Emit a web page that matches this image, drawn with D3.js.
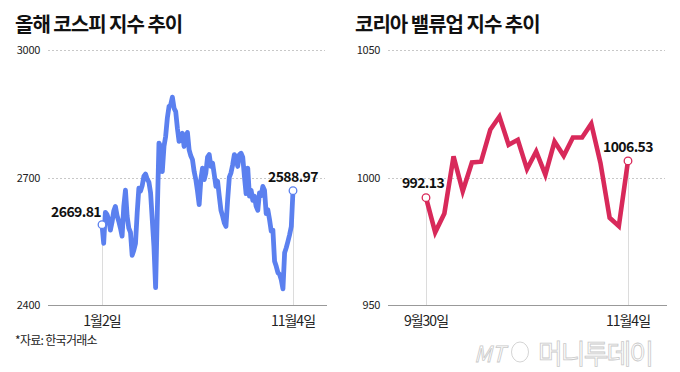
<!DOCTYPE html>
<html>
<head>
<meta charset="utf-8">
<script src="https://cdn.jsdelivr.net/npm/d3@7"></script>
<style>
  body { margin: 0; background: #fff; }
  text { font-family: "Noto Sans CJK KR", "Liberation Sans", sans-serif; }
</style>
</head>
<body>
<div id="chart"></div>
<script>
// values, left to right
var kospiValues = [
  2589, 2545, 2618, 2613, 2600, 2576, 2595, 2621, 2632, 2610, 2597, 2581, 2562, 2632, 2670,
  2609, 2581, 2571, 2517, 2529, 2545, 2617, 2675, 2668, 2681, 2703, 2708, 2696, 2689, 2664,
  2601, 2538, 2441, 2617, 2781, 2773, 2714, 2773, 2797, 2840, 2867, 2871, 2889, 2863, 2855,
  2816, 2785, 2789, 2804, 2773, 2798, 2806, 2765, 2751, 2742, 2714, 2695, 2668, 2636, 2695,
  2722, 2695, 2711, 2748, 2754, 2726, 2734, 2707, 2679, 2691, 2656, 2623, 2609, 2593, 2585,
  2648, 2701, 2711, 2730, 2754, 2748, 2726, 2754, 2757, 2748, 2703, 2662, 2722, 2656, 2670,
  2646, 2656, 2632, 2623, 2664, 2657, 2679, 2670, 2615, 2624, 2601, 2574, 2576, 2503, 2491,
  2476, 2472, 2459, 2438, 2523, 2535, 2550, 2566, 2585, 2669
];
var kospiTicks = [2400, 2700, 3000];
var kospiDates = ["1월2일", "11월4일"];
var kospiEndLabels = ["2669.81", "2588.97"];

var valueupValues = [
  992.1, 978.5, 985.9, 1008.3, 994.6, 1005.9, 1006.2, 1018.7, 1023.9, 1012.8, 1014.8, 1003.3,
  1010.2, 1001.1, 1014.1, 1008.5, 1015.7, 1015.7, 1021.1, 1005.7, 984.2, 980.9, 1006.5
];
var valueupTicks = [950, 1000, 1050];
var valueupDates = ["9월30일", "11월4일"];
var valueupEndLabels = ["992.13", "1006.53"];

var width = 680;
var height = 372;

var svg = d3.select("#chart").append("svg")
    .attr("width", width)
    .attr("height", height);

svg.append("rect")
    .attr("width", width)
    .attr("height", height)
    .attr("fill", "#fff");

function drawPanel(opt) {
    var g = svg.append("g").attr("transform", "translate(" + opt.left + ",0)");

    var yScale = d3.scaleLinear()
        .domain(d3.extent(opt.ticks))
        .range([305, 50]);

    var xScale = d3.scaleLinear()
        .domain([0, opt.values.length - 1])
        .range([opt.x0, opt.x1]);

    // title
    g.append("text")
        .attr("x", 15)
        .attr("y", 32)
        .attr("font-size", "20px")
        .attr("font-weight", "bold")
        .attr("letter-spacing", "-1px")
        .attr("fill", "#111")
        .text(opt.title);

    // grid lines
    g.selectAll(".grid")
        .data(opt.ticks.slice(1))
        .enter()
        .append("line")
            .attr("x1", 48)
            .attr("x2", 325)
            .attr("y1", function(d) { return Math.round(yScale(d)) + 0.5; })
            .attr("y2", function(d) { return Math.round(yScale(d)) + 0.5; })
            .attr("stroke", "#c8c8c8")
            .attr("stroke-dasharray", "2,2");

    // y tick labels
    g.selectAll(".ylab")
        .data(opt.ticks)
        .enter()
        .append("text")
            .attr("x", 40)
            .attr("y", function(d) { return yScale(d) + 4; })
            .attr("text-anchor", "end")
            .attr("font-family", "Liberation Sans")
            .attr("font-size", "11px")
            .attr("letter-spacing", "-0.3px")
            .attr("fill", "#222")
            .text(function(d) { return d; });

    var ends = [0, opt.values.length - 1];

    // drop lines
    g.selectAll(".drop")
        .data(ends)
        .enter()
        .append("line")
            .attr("x1", function(i) { return Math.round(xScale(i)) + 0.5; })
            .attr("x2", function(i) { return Math.round(xScale(i)) + 0.5; })
            .attr("y1", function(i) { return yScale(opt.values[i]); })
            .attr("y2", 305)
            .attr("stroke", "#dcdcdc");

    // base axis
    g.append("line")
        .attr("x1", 48)
        .attr("x2", 327)
        .attr("y1", 305.5)
        .attr("y2", 305.5)
        .attr("stroke", "#999");

    // x labels
    g.selectAll(".xlab")
        .data(ends)
        .enter()
        .append("text")
            .attr("x", function(i) { return xScale(i); })
            .attr("y", 326)
            .attr("text-anchor", "middle")
            .attr("font-size", "14px")
            .attr("letter-spacing", "-1px")
            .attr("fill", "#222")
            .text(function(d, k) { return opt.dates[k]; });

    var line = d3.line()
        .x(function(d, i) { return xScale(i); })
        .y(function(d) { return yScale(d); });

    g.append("path")
        .datum(opt.values)
        .attr("d", line)
        .attr("fill", "none")
        .attr("stroke", opt.color)
        .attr("stroke-width", opt.strokeWidth)
        .attr("stroke-linejoin", opt.join);

    g.selectAll(".dot")
        .data(ends)
        .enter()
        .append("circle")
            .attr("cx", function(i) { return xScale(i); })
            .attr("cy", function(i) { return yScale(opt.values[i]); })
            .attr("r", 3.8)
            .attr("fill", "#fff")
            .attr("stroke", opt.color)
            .attr("stroke-width", 1.3);

    g.selectAll(".vlab")
        .data(ends)
        .enter()
        .append("text")
            .attr("x", function(i, k) {
                return xScale(i) + (k === 0 ? opt.firstDx : 0);
            })
            .attr("y", function(i, k) {
                return yScale(opt.values[i]) + (k === 0 ? opt.firstDy : -8.5);
            })
            .attr("text-anchor", function(i, k) { return k === 0 ? opt.firstAnchor : "middle"; })
            .attr("font-family", "Liberation Sans")
            .attr("font-weight", "bold")
            .attr("font-size", "14px")
            .attr("letter-spacing", "-0.6px")
            .attr("fill", "#111")
            .text(function(d, k) { return opt.labels[k]; });
}

drawPanel({
    left: 0,
    title: "올해 코스피 지수 추이",
    values: kospiValues,
    ticks: kospiTicks,
    dates: kospiDates,
    labels: kospiEndLabels,
    x0: 102, x1: 293,
    color: "#5b80ef",
    strokeWidth: 4.8,
    join: "round",
    firstAnchor: "end", firstDx: -1, firstDy: -8
});

drawPanel({
    left: 340,
    title: "코리아 밸류업 지수 추이",
    values: valueupValues,
    ticks: valueupTicks,
    dates: valueupDates,
    labels: valueupEndLabels,
    x0: 86, x1: 288,
    color: "#d8295a",
    strokeWidth: 4.6,
    join: "miter",
    firstAnchor: "middle", firstDx: -3, firstDy: -9.5
});

// source note
svg.append("text")
    .attr("x", 15)
    .attr("y", 345)
    .attr("font-size", "12px")
    .attr("letter-spacing", "-0.7px")
    .attr("fill", "#222")
    .text("*자료: 한국거래소");

// watermark
var wm = svg.append("g").attr("fill", "#fff").attr("stroke", "#c9c9c9").attr("stroke-width", 0.8);
wm.append("text")
    .attr("x", 474)
    .attr("y", 362)
    .attr("font-family", "Liberation Sans")
    .attr("font-style", "italic")
    .attr("font-size", "22px")
    .text("MT");
wm.append("ellipse")
    .attr("cx", 520)
    .attr("cy", 352)
    .attr("rx", 8.5)
    .attr("ry", 10)
    .attr("fill", "none");
wm.append("text")
    .attr("x", 538)
    .attr("y", 364)
    .attr("font-size", "27px")
    .attr("letter-spacing", "-2px")
    .text("머니투데이");
</script>
</body>
</html>
